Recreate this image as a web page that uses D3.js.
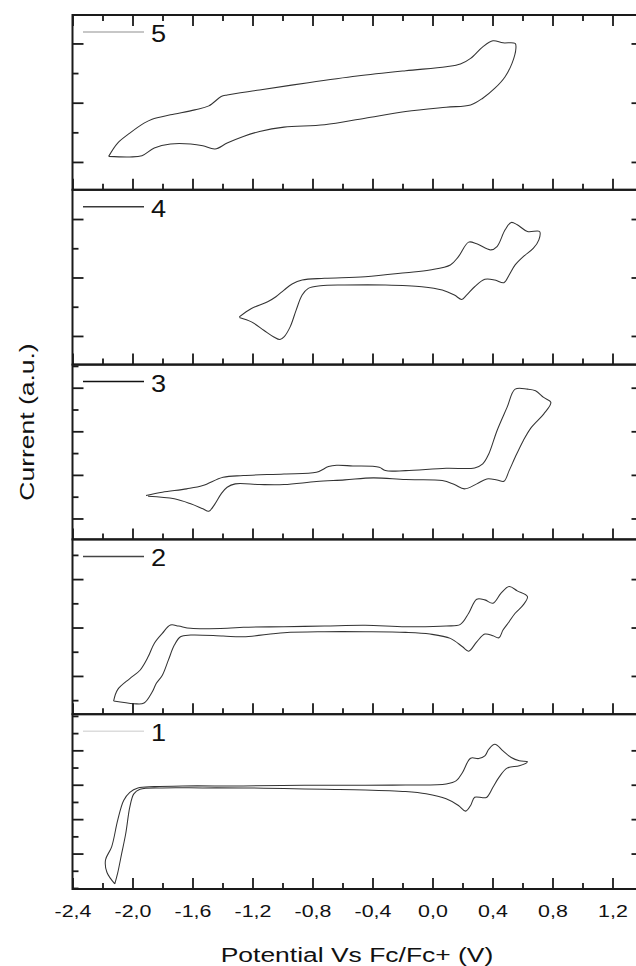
<!DOCTYPE html>
<html lang="en">
<head>
<meta charset="UTF-8">
<title>Cyclic voltammograms 1-5</title>
<script src="https://d3js.org/d3.v7.min.js"></script>
<style>
  body { margin: 0; background: #fff; }
  svg { display: block; font-family: "Liberation Sans", Arial, sans-serif; }
  .tick line { stroke: #1a1a1a; stroke-width: 1.8; }
  .tick text { font-size: 17px; fill: #111; }
</style>
</head>
<body>
<div id="chart"></div>
<script>
// x axis (potential, V)
const xDomain = [-2.4, 1.4];
const xTicks = [-2.4, -2.0, -1.6, -1.2, -0.8, -0.4, 0.0, 0.4, 0.8, 1.2];
const xTickLabels = ["-2,4", "-2,0", "-1,6", "-1,2", "-0,8", "-0,4", "0,0", "0,4", "0,8", "1,2"];
const xMinorTicks = [-2.2, -1.8, -1.4, -1.0, -0.6, -0.2, 0.2, 0.6, 1.0];

// panels from top to bottom
const panelLabels = ["5", "4", "3", "2", "1"];
const yDomains = [[-0.47, 2.48], [-0.49, 2.5], [-0.48, 3.53], [-0.79, 2.82], [-1.03, 4.05]];
const yMajorTicks = [[0, 1, 2], [0, 1, 2], [0, 1, 2, 3], [0, 1, 2], [0, 1, 2, 3]];
const legendColors = ["#b4b4b4", "#3a3a3a", "#111", "#444", "#dcdcdc"];

// [potential V, current a.u.]
const cv5 = [[-2.159, 0.094], [-2.099, 0.319], [-2.018, 0.487], [-1.923, 0.655], [-1.869, 0.722],
  [-1.747, 0.795], [-1.585, 0.879], [-1.491, 0.946], [-1.409, 1.103], [-1.369, 1.131],
  [-1.153, 1.215], [-0.828, 1.338], [-0.503, 1.450], [-0.179, 1.540], [0.091, 1.607],
  [0.186, 1.652], [0.254, 1.748], [0.335, 1.943], [0.403, 2.044], [0.470, 2.010],
  [0.551, 2.000], [0.556, 1.916], [0.530, 1.664], [0.484, 1.439], [0.416, 1.244],
  [0.335, 1.076], [0.254, 0.963], [0.091, 0.924], [-0.179, 0.850], [-0.449, 0.739],
  [-0.720, 0.627], [-0.990, 0.588], [-1.153, 0.514], [-1.261, 0.430], [-1.369, 0.319],
  [-1.450, 0.218], [-1.531, 0.274], [-1.612, 0.303], [-1.747, 0.303], [-1.855, 0.235],
  [-1.937, 0.106], [-2.018, 0.084], [-2.159, 0.094]];

const cv4 = [[-1.288, 0.326], [-1.207, 0.470], [-1.099, 0.584], [-1.044, 0.670], [-0.990, 0.785],
  [-0.936, 0.888], [-0.869, 0.957], [-0.720, 0.986], [-0.449, 1.014], [-0.179, 1.082],
  [-0.017, 1.129], [0.119, 1.215], [0.173, 1.357], [0.241, 1.605], [0.295, 1.576],
  [0.389, 1.472], [0.430, 1.529], [0.484, 1.816], [0.525, 1.942], [0.565, 1.902],
  [0.633, 1.787], [0.714, 1.787], [0.709, 1.644], [0.673, 1.502], [0.605, 1.357],
  [0.551, 1.215], [0.511, 1.043], [0.476, 0.911], [0.416, 0.957], [0.349, 0.969],
  [0.281, 0.842], [0.227, 0.699], [0.195, 0.625], [0.146, 0.699], [0.065, 0.785],
  [-0.071, 0.842], [-0.314, 0.871], [-0.585, 0.871], [-0.747, 0.859], [-0.828, 0.814],
  [-0.869, 0.699], [-0.909, 0.442], [-0.949, 0.155], [-0.990, -0.017], [-1.017, -0.062],
  [-1.058, -0.017], [-1.125, 0.098], [-1.207, 0.241], [-1.288, 0.316]];

const cv3 = [[-1.910, 0.526], [-1.801, 0.602], [-1.639, 0.679], [-1.531, 0.755], [-1.396, 0.945],
  [-1.261, 0.984], [-0.990, 1.022], [-0.774, 1.060], [-0.693, 1.190], [-0.639, 1.220],
  [-0.531, 1.205], [-0.355, 1.175], [-0.314, 1.098], [-0.179, 1.098], [0.091, 1.152],
  [0.281, 1.159], [0.335, 1.251], [0.375, 1.480], [0.430, 2.014], [0.497, 2.548],
  [0.551, 2.967], [0.633, 2.967], [0.687, 2.929], [0.741, 2.777], [0.789, 2.662],
  [0.741, 2.395], [0.659, 2.090], [0.605, 1.785], [0.551, 1.403], [0.511, 1.098],
  [0.476, 0.854], [0.430, 0.885], [0.362, 0.908], [0.295, 0.794], [0.213, 0.679],
  [0.146, 0.778], [0.065, 0.870], [-0.179, 0.892], [-0.395, 0.931], [-0.585, 0.885],
  [-0.774, 0.847], [-0.990, 0.778], [-1.153, 0.778], [-1.315, 0.794], [-1.369, 0.716],
  [-1.409, 0.565], [-1.450, 0.336], [-1.491, 0.167], [-1.531, 0.222], [-1.612, 0.336],
  [-1.721, 0.451], [-1.896, 0.510]];

const cv2 = [[-2.126, -0.519], [-2.099, -0.282], [-2.018, -0.054], [-1.950, 0.118], [-1.896, 0.394],
  [-1.855, 0.672], [-1.801, 0.880], [-1.747, 1.052], [-1.693, 1.031], [-1.612, 0.983],
  [-1.369, 0.983], [-1.261, 1.004], [-0.990, 1.017], [-0.720, 1.031], [-0.449, 1.046],
  [-0.179, 1.017], [0.091, 1.031], [0.186, 1.066], [0.241, 1.295], [0.295, 1.585],
  [0.349, 1.571], [0.403, 1.502], [0.457, 1.710], [0.511, 1.846], [0.565, 1.757],
  [0.633, 1.639], [0.605, 1.467], [0.551, 1.295], [0.511, 1.120], [0.470, 0.948],
  [0.443, 0.788], [0.403, 0.830], [0.349, 0.865], [0.295, 0.705], [0.241, 0.512],
  [0.200, 0.602], [0.119, 0.776], [-0.017, 0.865], [-0.179, 0.900], [-0.449, 0.913],
  [-0.720, 0.913], [-0.990, 0.892], [-1.261, 0.809], [-1.396, 0.824], [-1.612, 0.844],
  [-1.680, 0.809], [-1.721, 0.637], [-1.761, 0.326], [-1.801, 0.015], [-1.842, -0.158],
  [-1.869, -0.332], [-1.923, -0.560], [-1.991, -0.573], [-2.126, -0.519]];

const cv1 = [[-2.118, -0.879], [-2.170, -0.550], [-2.180, -0.187], [-2.139, 0.196], [-2.099, 0.965],
  [-2.059, 1.542], [-2.018, 1.781], [-1.964, 1.908], [-1.855, 1.945], [-1.666, 1.965],
  [-1.261, 1.965], [-0.855, 1.983], [-0.449, 1.983], [-0.179, 1.994], [0.091, 2.023],
  [0.159, 2.118], [0.200, 2.357], [0.254, 2.772], [0.308, 2.761], [0.349, 2.839],
  [0.375, 3.032], [0.416, 3.176], [0.470, 2.983], [0.525, 2.790], [0.579, 2.695],
  [0.633, 2.666], [0.579, 2.550], [0.497, 2.484], [0.443, 2.213], [0.403, 1.925],
  [0.362, 1.637], [0.335, 1.620], [0.281, 1.637], [0.254, 1.398], [0.221, 1.233],
  [0.173, 1.398], [0.091, 1.591], [-0.043, 1.735], [-0.179, 1.801], [-0.449, 1.850],
  [-0.720, 1.867], [-0.990, 1.888], [-1.261, 1.908], [-1.531, 1.908], [-1.801, 1.908],
  [-1.950, 1.867], [-1.991, 1.735], [-2.018, 1.349], [-2.045, 0.582], [-2.072, 0.006],
  [-2.099, -0.571], [-2.118, -0.879]];

const curves = [cv5, cv4, cv3, cv2, cv1];

const width = 636, height = 966;
const plotL = 72.5, plotR = 642.5, plotT = 15, plotB = 889;
const panelH = (plotB - plotT) / curves.length;
const stretch = 1.26; // the lettering in the figure is wider than plain Arial

const svg = d3.select("#chart").append("svg")
    .attr("width", width)
    .attr("height", height);

const x = d3.scaleLinear().domain(xDomain).range([plotL, plotR]);

curves.forEach((data, i) => {
    const y0 = plotT + i * panelH, y1 = y0 + panelH;
    const dom = yDomains[i];
    const y = d3.scaleLinear().domain(dom).range([y1, y0]);
    const yMinor = d3.range(Math.ceil(dom[0] * 2) / 2, dom[1], 0.5)
        .filter(v => !yMajorTicks[i].includes(v));

    const g = svg.append("g");

    g.append("clipPath").attr("id", "clip" + i)
      .append("rect")
        .attr("x", plotL).attr("y", y0)
        .attr("width", plotR - plotL).attr("height", panelH);

    // the voltammogram
    const line = d3.line()
        .x(d => x(d[0]))
        .y(d => y(d[1]))
        .curve(d3.curveCatmullRom.alpha(0.5));

    g.append("path")
        .datum(data)
        .attr("clip-path", `url(#clip${i})`)
        .attr("d", line)
        .attr("fill", "none")
        .attr("stroke", "#333")
        .attr("stroke-width", 1.05);

    // y ticks, both sides, pointing inward
    const addY = (axisFn, xPos, vals, size) => {
        g.append("g")
            .attr("transform", `translate(${xPos},0)`)
            .call(axisFn(y).tickValues(vals).tickSize(-size).tickFormat(""))
            .select(".domain").remove();
    };
    addY(d3.axisLeft, plotL, yMajorTicks[i], 11);
    addY(d3.axisLeft, plotL, yMinor, 6);
    addY(d3.axisRight, plotR, yMajorTicks[i], 11);
    addY(d3.axisRight, plotR, yMinor, 6);

    // x ticks at the bottom of every panel
    const last = i === curves.length - 1;
    const xMaj = g.append("g")
        .attr("transform", `translate(0,${y1})`)
        .call(d3.axisBottom(x).tickValues(xTicks).tickSize(-11).tickPadding(16)
            .tickFormat((d, k) => last ? xTickLabels[k] : ""));
    xMaj.select(".domain").remove();
    xMaj.selectAll(".tick text").attr("transform", `scale(${stretch},1)`);
    g.append("g")
        .attr("transform", `translate(0,${y1})`)
        .call(d3.axisBottom(x).tickValues(xMinorTicks).tickSize(-6).tickFormat(""))
        .select(".domain").remove();

    // top panel also carries ticks along its upper edge
    if (i === 0) {
        g.append("g")
            .attr("transform", `translate(0,${y0})`)
            .call(d3.axisTop(x).tickValues(xTicks).tickSize(-11).tickFormat(""))
            .select(".domain").remove();
        g.append("g")
            .attr("transform", `translate(0,${y0})`)
            .call(d3.axisTop(x).tickValues(xMinorTicks).tickSize(-6).tickFormat(""))
            .select(".domain").remove();
    }

    // frame
    g.append("rect")
        .attr("x", plotL).attr("y", y0)
        .attr("width", plotR - plotL).attr("height", panelH)
        .attr("fill", "none")
        .attr("stroke", "#1a1a1a")
        .attr("stroke-width", 2);

    // legend
    g.append("line")
        .attr("x1", 83).attr("x2", 144)
        .attr("y1", y0 + 17).attr("y2", y0 + 17)
        .attr("stroke", legendColors[i])
        .attr("stroke-width", 1.5);
    g.append("text")
        .attr("transform", `translate(151,${y0 + 27}) scale(1.18,1)`)
        .attr("font-size", 23)
        .attr("fill", "#111")
        .text(panelLabels[i]);
});

// axis titles
svg.append("text")
    .attr("transform", `translate(357,962) scale(${stretch},1)`)
    .attr("text-anchor", "middle")
    .attr("font-size", 21)
    .attr("fill", "#111")
    .text("Potential Vs Fc/Fc+ (V)");

svg.append("text")
    .attr("transform", `translate(34,422) rotate(-90) scale(${stretch},1)`)
    .attr("text-anchor", "middle")
    .attr("font-size", 21)
    .attr("fill", "#111")
    .text("Current (a.u.)");
</script>
</body>
</html>
